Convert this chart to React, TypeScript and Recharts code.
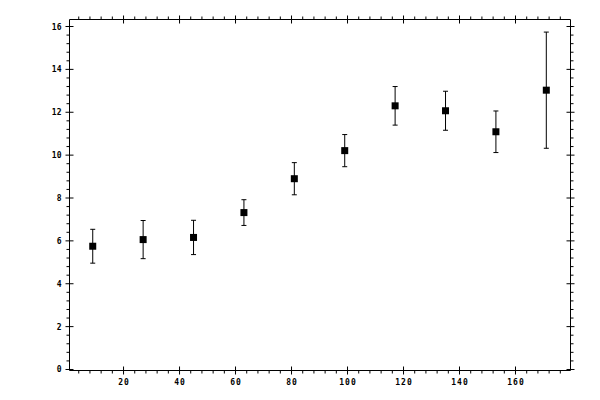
import React from 'react';
import { ScatterChart, Scatter, XAxis, YAxis, ErrorBar } from 'recharts';

const xValues = [9, 27, 45, 63, 81, 99, 117, 135, 153, 171];
const yValues = [5.75, 6.06, 6.16, 7.32, 8.9, 10.21, 12.3, 12.07, 11.09, 13.03];
const yErrors = [0.79, 0.89, 0.8, 0.6, 0.75, 0.75, 0.9, 0.91, 0.97, 2.71];

// axis ticks: majors get labels, minors are short marks
const xMajorTicks = [20, 40, 60, 80, 100, 120, 140, 160];
const xMinorStep = 4;
const yMajorTicks = [0, 2, 4, 6, 8, 10, 12, 14, 16];
const yMinorStep = 0.4;

const xTicks = Array.from({ length: 44 }, (_, i) => (i + 1) * xMinorStep);
const yTicks = Array.from({ length: 41 }, (_, i) => Math.round(i * yMinorStep * 10) / 10);

const isMajor = (v: number, majors: number[]) => majors.some((m) => Math.abs(m - v) < 1e-6);

const data = xValues.map((x, i) => ({ x, y: yValues[i], err: yErrors[i] }));

const FONT = '"DejaVu Sans Mono", monospace';

const BottomTick = (props: any) => {
    const { x, y, payload } = props;
    const major = isMajor(payload.value, xMajorTicks);
    return (
        <g>
            <line x1={x} x2={x} y1={major ? y - 4 : y} y2={major ? y + 4 : y + 3} stroke="#000" />
            {major && (
                <text
                    x={x + 0.5}
                    y={y + 14}
                    textAnchor="middle"
                    fontSize={8}
                    fontWeight="bold"
                    letterSpacing={1}
                    fontFamily={FONT}
                    fill="#000"
                >
                    {payload.value}
                </text>
            )}
        </g>
    );
};

const TopTick = (props: any) => {
    const { x, y, payload } = props;
    const major = isMajor(payload.value, xMajorTicks);
    return <line x1={x} x2={x} y1={major ? y - 4 : y - 3} y2={major ? y + 4 : y} stroke="#000" />;
};

const LeftTick = (props: any) => {
    const { x, y, payload } = props;
    const major = isMajor(payload.value, yMajorTicks);
    return (
        <g>
            <line x1={major ? x - 4 : x - 3} x2={major ? x + 4 : x} y1={y} y2={y} stroke="#000" />
            {major && (
                <text
                    x={x - 8}
                    y={y + 3}
                    textAnchor="end"
                    fontSize={8}
                    fontWeight="bold"
                    fontFamily={FONT}
                    fill="#000"
                >
                    {payload.value}
                </text>
            )}
        </g>
    );
};

const RightTick = (props: any) => {
    const { x, y, payload } = props;
    const major = isMajor(payload.value, yMajorTicks);
    return <line x1={major ? x - 4 : x} x2={major ? x + 4 : x + 3} y1={y} y2={y} stroke="#000" />;
};

const SquareDot = (props: any) => {
    const { cx, cy } = props;
    return <rect x={cx - 3.5} y={cy - 3.5} width={7} height={7} fill="#000" />;
};

const xDomain = [0.7, 179.64];
const yDomain = [-0.047, 16.327];

export default function App() {
    return (
        <div style={{ position: 'absolute', left: 0, top: 0, background: '#fff' }}>
            <ScatterChart
                width={600}
                height={400}
                margin={{ top: 18.5, right: 28.5, bottom: 28.5, left: 68.5 }}
            >
                <XAxis
                    xAxisId="b"
                    type="number"
                    dataKey="x"
                    orientation="bottom"
                    domain={xDomain}
                    ticks={xTicks}
                    interval={0}
                    height={1}
                    tickSize={0}
                    tickMargin={0}
                    tickLine={false}
                    axisLine={{ stroke: '#000' }}
                    tick={<BottomTick />}
                    allowDataOverflow
                />
                <XAxis
                    xAxisId="t"
                    type="number"
                    dataKey="x"
                    orientation="top"
                    domain={xDomain}
                    ticks={xTicks}
                    interval={0}
                    height={1}
                    tickSize={0}
                    tickMargin={0}
                    tickLine={false}
                    axisLine={{ stroke: '#000' }}
                    tick={<TopTick />}
                    allowDataOverflow
                />
                <YAxis
                    yAxisId="l"
                    type="number"
                    dataKey="y"
                    orientation="left"
                    domain={yDomain}
                    ticks={yTicks}
                    interval={0}
                    width={1}
                    tickSize={0}
                    tickMargin={0}
                    tickLine={false}
                    axisLine={{ stroke: '#000' }}
                    tick={<LeftTick />}
                    allowDataOverflow
                />
                <YAxis
                    yAxisId="r"
                    type="number"
                    dataKey="y"
                    orientation="right"
                    domain={yDomain}
                    ticks={yTicks}
                    interval={0}
                    width={1}
                    tickSize={0}
                    tickMargin={0}
                    tickLine={false}
                    axisLine={{ stroke: '#000' }}
                    tick={<RightTick />}
                    allowDataOverflow
                />
                <Scatter
                    data={data}
                    xAxisId="b"
                    yAxisId="l"
                    shape={<SquareDot />}
                    isAnimationActive={false}
                >
                    <ErrorBar dataKey="err" direction="y" width={2.5} stroke="#000" strokeWidth={1} />
                </Scatter>
            </ScatterChart>
        </div>
    );
}
